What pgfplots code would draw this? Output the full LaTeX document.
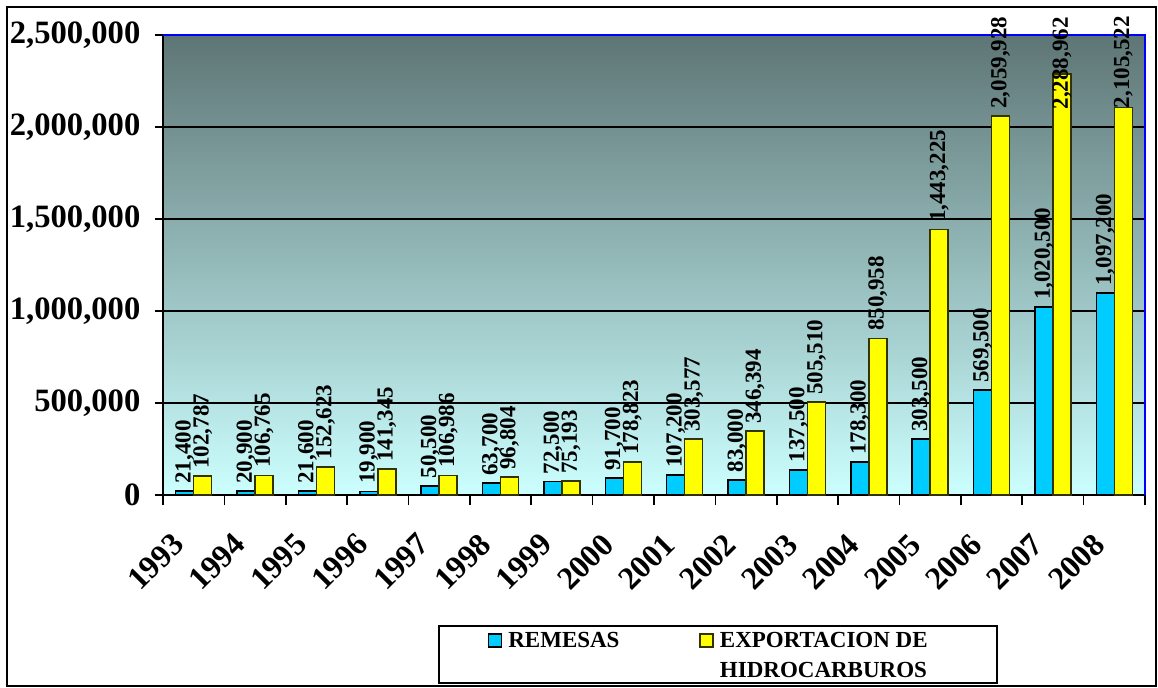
\documentclass[border=0pt]{standalone}
\usepackage{fontspec}
\setmainfont{Liberation Serif}
\usepackage{pgfplots}
\usepackage{pgfplotstable}
\pgfplotsset{compat=1.18}

\definecolor{remblue}{RGB}{0,204,255}
\definecolor{expyel}{RGB}{255,255,0}
\definecolor{expedge}{RGB}{51,51,0}
\definecolor{bgtop}{RGB}{94,117,117}
\definecolor{bgbot}{RGB}{204,255,255}

% x = año (0 = 1993), sh = bajada de la etiqueta amarilla (pt)
\pgfplotstableread{
x rem remlab exp explab sh
0 21400 21,400 102787 102,787 0
1 20900 20,900 106765 106,765 0
2 21600 21,600 152623 152,623 0
3 19900 19,900 141345 141,345 0
4 50500 50,500 106986 106,986 0
5 63700 63,700 96804 96,804 0
6 72500 72,500 75193 75,193 0
7 91700 91,700 178823 178,823 0
8 107200 107,200 303577 303,577 0
9 83000 83,000 346394 346,394 0
10 137500 137,500 505510 505,510 0
11 178300 178,300 850958 850,958 0
12 303500 303,500 1443225 1,443,225 0
13 569500 569,500 2059928 2,059,928 0
14 1020500 1,020,500 2288962 2,288,962 21.5
15 1097200 1,097,200 2105522 2,105,522 4
}\datos

\begin{document}
\begin{tikzpicture}
\path[use as bounding box] (-81.5pt,-96pt) rectangle (497.5pt,247.5pt);
\begin{axis}[
    at={(0,0)}, anchor=south west,
    scale only axis, width=491pt, height=230pt,
    ybar=0pt, bar width=9pt,
    xmin=-0.5, xmax=15.5,
    ymin=0, ymax=2500000,
    clip=false,
    axis x line=bottom, axis y line=left,
    axis line style={-, line width=0.8pt, black},
    axis background/.style={top color=bgtop, bottom color=bgbot},
    ymajorgrids, grid style={black, line width=0.75pt},
    tick align=outside,
    major tick length=4pt, minor tick length=5pt,
    tick style={black, line width=0.8pt},
    xtick={0,...,15},
    xticklabels={1993,1994,1995,1996,1997,1998,1999,2000,2001,2002,2003,2004,2005,2006,2007,2008},
    minor xtick={-0.5,0.5,...,15.5},
    major x tick style={draw=none},
    ytick={0,500000,1000000,1500000,2000000,2500000},
    yticklabels={0,{500,000},{1,000,000},{1,500,000},{2,000,000},{2,500,000}},
    scaled y ticks=false,
    yticklabel style={font=\fontsize{16.3}{19}\selectfont\bfseries, xshift=-3.8pt},
    xticklabel style={font=\fontsize{16}{19}\selectfont\bfseries, inner sep=0pt,
        anchor=east, xshift=-7.5pt, yshift=-18pt, rotate=45},
    legend columns=2,
    legend cell align=left,
    legend image code/.code={\draw[#1, line width=0.8pt] (0pt,3.75pt) rectangle (6.5pt,10.25pt);},
    legend style={at={(0.28,-0.2826)}, anchor=north west,
        draw=black, line width=0.8pt, fill=white,
        font=\fontsize{11.5}{15}\selectfont\bfseries,
        inner xsep=24.5pt, inner ysep=3pt,
        nodes={inner sep=0pt, text depth=, text height=},
        /tikz/every odd column/.append style={column sep=3pt},
        /tikz/every even column/.append style={column sep=0pt}},
]

\addplot[fill=remblue, draw=black, line width=0.8pt,
    nodes near coords, point meta=explicit symbolic,
    nodes near coords style={rotate=90, anchor=west,
        font=\fontsize{11.5}{13}\selectfont\bfseries, text=black}]
    table[x=x, y=rem, meta=remlab] {\datos};
\addlegendentry{\parbox[t]{95.5pt}{REMESAS\\\mbox{}}}

\addplot[fill=expyel, draw=expedge, line width=0.8pt,
    nodes near coords, point meta=explicit symbolic,
    visualization depends on={\thisrow{sh} \as \myshift},
    nodes near coords style={yshift=-\myshift pt, rotate=90, anchor=west,
        font=\fontsize{11.5}{13}\selectfont\bfseries, text=black}]
    table[x=x, y=exp, meta=explab] {\datos};
\addlegendentry{\parbox[t]{114pt}{EXPORTACION DE\\HIDROCARBUROS}}

% bordes superior y derecho en azul
\draw[blue, line width=0.8pt] (rel axis cs:0,1) -- (rel axis cs:1,1) -- (rel axis cs:1,0);
\end{axis}
\draw[line width=1pt] (-78pt,-95.5pt) rectangle (496.5pt,244pt);
\end{tikzpicture}
\end{document}
